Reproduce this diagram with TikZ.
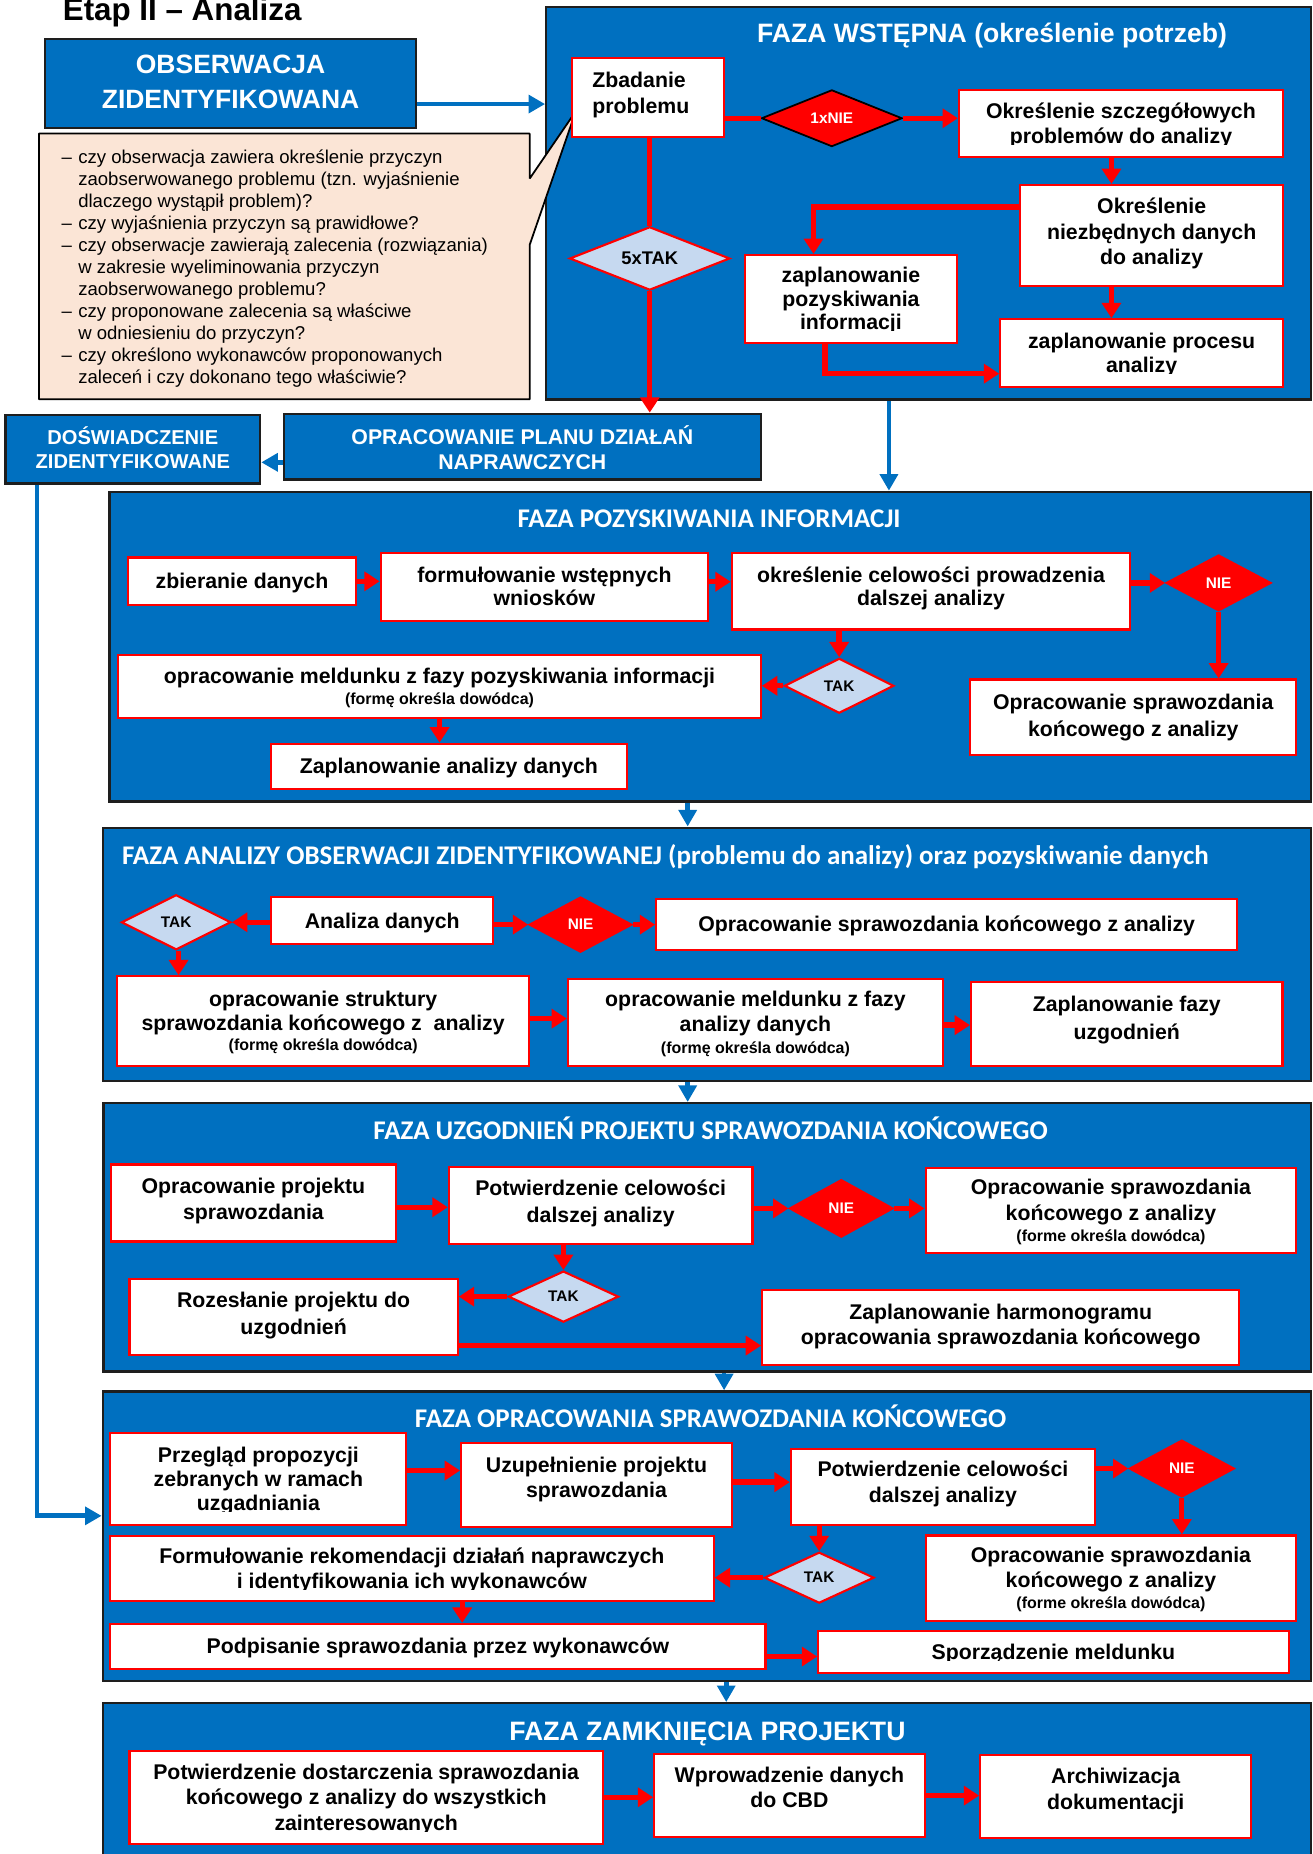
\documentclass[tikz,border=0pt]{standalone}
\usepackage{fontspec}
\setmainfont{Liberation Sans}
\newfontfamily\calfont{Carlito}
\usetikzlibrary{arrows.meta,shapes.geometric}
\definecolor{myblue}{RGB}{0,112,192}
\definecolor{myred}{RGB}{255,0,0}
\definecolor{dlblue}{RGB}{198,217,240}
\definecolor{peach}{RGB}{251,229,214}
\definecolor{dborder}{RGB}{30,30,30}
\newcommand\topS{16.5pt}
\newcommand\botD{4pt}
\newcommand\mybox[7][]{\node[wbox,#1,minimum width={#5pt-#3pt},minimum height={#6pt-#4pt}] (#2) at ({(#3+#5)/2},{(#4+#6)/2}) {\rule{0pt}{\topS}#7\rule[-\botD]{0pt}{\botD}};}
\newcommand\mydiam[7][]{\node[diam,#1,minimum width=#5pt,minimum height=#6pt] (#2) at (#3,#4) {#7};}
\newcommand\myphase[5]{\node[phase,minimum width={#4pt-#2pt},minimum height={#5pt-#3pt}] (#1) at ({(#2+#4)/2},{(#3+#5)/2}) {};}
\newcommand\smalltxt[1]{{\fontsize{13.5}{16}\selectfont #1}}
\newcommand\cutb[4]{\fill[white] ({#1+1.2},#2) rectangle ({#3-1.2},{#4-1.1});}
\newcommand\dsh{\makebox[14pt][l]{–}}
\newcommand\ind{\hspace*{14pt}}
\begin{document}
\begin{tikzpicture}[x=1pt,y=-1pt,
  wbox/.style={draw=myred,line width=1.8pt,fill=white,text=black,align=center,inner sep=0pt,font=\bfseries\fontsize{18}{21}\selectfont},
  tup/.style={execute at begin node={\def\botD{#1}}},
  tdown/.style={execute at begin node={\def\topS{#1}}},
  diam/.style={diamond,inner sep=0pt,aspect=2,line width=1.8pt,font=\bfseries\fontsize{13}{15}\selectfont},
  ydiam/.style={draw=myred,fill=dlblue,text=black},
  ndiam/.style={draw=myred,fill=myred,text=white},
  phase/.style={draw=dborder,line width=2pt,fill=myblue,inner sep=0pt},
  bbox/.style={draw=dborder,line width=2pt,fill=myblue,text=white},
  ptitle/.style={text=white,inner sep=0pt,anchor=base,font=\calfont\bfseries\fontsize{22.8}{26}\selectfont},
  atitle/.style={text=white,inner sep=0pt,anchor=base,font=\bfseries\fontsize{22.5}{26}\selectfont},
  rline/.style={draw=myred,line width=4.5pt},
  rarr/.style={rline,-{Triangle[length=13pt,width=16pt]}},
  barr/.style={draw=myblue,line width=4pt,-{Triangle[length=14pt,width=15pt]}}
]
\useasboundingbox (0,0) rectangle (1110,1568);
\clip (0,0) rectangle (1110,1568);

% title
\node[anchor=base west,inner sep=0pt,font=\bfseries\fontsize{26.5}{30}\selectfont] (title) at (53,17.5) {Etap II – Analiza};

\mybox[bbox,font=\bfseries\fontsize{22.4}{29.5}\selectfont]{obs}{38}{33}{352}{108}{OBSERWACJA\\ZIDENTYFIKOWANA}

% ===== phase 1
\myphase{f1}{462}{6}{1109}{338}
\node[atitle] (t1) at (839,36) {FAZA WSTĘPNA (określenie potrzeb)};

\path[fill=peach,draw=black,line width=1.5pt,line join=bevel] (33,113) -- (448,113) -- (448,151) -- (487,94) -- (448,207) -- (448,337.6) -- (33,337.6) -- cycle;
\node[anchor=west,align=left,inner sep=0pt,font=\fontsize{15.7}{18.6}\selectfont] (note) at (52,227) {\dsh czy obserwacja zawiera określenie przyczyn\\
\ind zaobserwowanego problemu (tzn. wyjaśnienie\\
\ind dlaczego wystąpił problem)?\\
\dsh czy wyjaśnienia przyczyn są prawidłowe?\\
\dsh czy obserwacje zawierają zalecenia (rozwiązania)\\
\ind w zakresie wyeliminowania przyczyn\\
\ind zaobserwowanego problemu?\\
\dsh czy proponowane zalecenia są właściwe\\
\ind w odniesieniu do przyczyn?\\
\dsh czy określono wykonawców proponowanych\\
\ind zaleceń i czy dokonano tego właściwie?};

\mybox[text width=94pt,align=left,font=\bfseries\fontsize{18}{22}\selectfont,tup=12pt]{zbad}{484}{49}{612}{116}{Zbadanie\\problemu}
\mydiam[ndiam,draw=black,line width=1.5pt]{nie1}{703.5}{100}{119}{48}{1xNIE}
\mybox{sz}{811}{76}{1085}{132.6}{Określenie szczegółowych\\problemów do analizy}
\mybox[font=\bfseries\fontsize{18}{21.5}\selectfont,tup=10.3pt]{nd}{863}{156.5}{1085}{241.7}{Określenie\\niezbędnych danych\\do analizy}
\mybox[font=\bfseries\fontsize{18}{19.8}\selectfont]{zpi}{629.7}{215.7}{809.6}{290}{zaplanowanie\\pozyskiwania\\informacji}
\mybox[font=\bfseries\fontsize{18}{20}\selectfont]{zpa}{846}{270}{1085}{327}{zaplanowanie procesu\\analizy}
\mydiam[ydiam,font=\bfseries\fontsize{15.5}{18}\selectfont]{tak5}{549.5}{218.6}{135.5}{53.6}{5xTAK}

\mybox[bbox,tdown=21.5pt]{opn}{240}{350}{643.5}{405.5}{OPRACOWANIE PLANU DZIAŁAŃ\\NAPRAWCZYCH}
\mybox[bbox,font=\bfseries\fontsize{17}{20}\selectfont]{dos}{4.6}{351}{220}{409}{DOŚWIADCZENIE\\ZIDENTYFIKOWANE}

% ===== phase 2
\myphase{f2}{92.5}{416}{1109}{678}
\node[ptitle] (t2) at (599.7,446) {FAZA POZYSKIWANIA INFORMACJI};
\mybox{zb}{108.3}{471.5}{301}{511.8}{zbieranie danych}
\mybox[font=\bfseries\fontsize{18}{19.6}\selectfont]{fw}{322}{467.6}{598.8}{525}{formułowanie wstępnych\\wniosków}
\mybox[font=\bfseries\fontsize{18}{19.6}\selectfont,tup=11.5pt]{oc}{618.9}{467.6}{956}{532.4}{określenie celowości prowadzenia\\dalszej analizy}
\mydiam[ndiam]{nie2}{1030.6}{493}{88.6}{47.2}{NIE}
\mybox[font=\bfseries\fontsize{18}{23.5}\selectfont,tup=7pt]{osk2}{820.6}{574.7}{1096.3}{638.7}{Opracowanie sprawozdania\\końcowego z analizy}
\mydiam[ydiam]{tak2}{709.7}{580}{92.5}{46.5}{TAK}
\mybox{om2}{100}{554}{643.5}{607}{opracowanie meldunku z fazy pozyskiwania informacji\\[-3pt]\smalltxt{(formę określa dowódca)}}
\mybox{zad}{229.3}{628.9}{530}{667}{Zaplanowanie analizy danych}

% ===== phase 3
\myphase{f3}{87}{700}{1109}{914.3}
\node[ptitle] (t3) at (562.7,731) {FAZA ANALIZY OBSERWACJI ZIDENTYFIKOWANEJ (problemu do analizy) oraz pozyskiwanie danych};
\mybox{ad}{229.3}{758.6}{417.3}{798.6}{Analiza danych}
\mydiam[ydiam]{tak3}{149}{780}{92.6}{46.6}{TAK}
\mydiam[ndiam]{nie3}{491}{782}{86.8}{46.6}{NIE}
\mybox{osk3}{555}{760}{1046.3}{803.2}{Opracowanie sprawozdania końcowego z analizy}
\mybox[font=\bfseries\fontsize{18}{20.2}\selectfont]{os3}{99}{825.7}{447.6}{901.6}{opracowanie struktury\\sprawozdania końcowego z\ \ analizy\\[-2.5pt]\smalltxt{(formę określa dowódca)}}
\mybox[font=\bfseries\fontsize{18}{21.2}\selectfont]{om3}{480.4}{827.7}{797.4}{901.6}{opracowanie meldunku z fazy\\analizy danych\\[-3pt]\smalltxt{(formę określa dowódca)}}
\mybox[font=\bfseries\fontsize{18}{23.4}\selectfont,tup=14.5pt]{zfu}{821.3}{830.8}{1084.6}{901.6}{Zaplanowanie fazy\\uzgodnień}

% ===== phase 4
\myphase{f4}{87.6}{933}{1108.8}{1160}
\node[ptitle] (t4) at (601,964) {FAZA UZGODNIEŃ PROJEKTU SPRAWOZDANIA KOŃCOWEGO};
\mybox[font=\bfseries\fontsize{18}{22}\selectfont,tup=10.9pt]{op4}{93.7}{984.8}{335}{1050}{Opracowanie projektu\\sprawozdania}
\mybox[font=\bfseries\fontsize{18}{22.5}\selectfont,tup=10pt]{pc4}{379.6}{987}{636.4}{1051.9}{Potwierdzenie celowości\\dalszej analizy}
\mydiam[ndiam]{nie4}{711.5}{1022}{87.5}{48.6}{NIE}
\mybox[font=\bfseries\fontsize{18}{21.9}\selectfont]{osk4}{782.8}{987.6}{1096.3}{1059.5}{Opracowanie sprawozdania\\końcowego z analizy\\[-4pt]\smalltxt{(forme określa dowódca)}}
\mydiam[ydiam]{tak4}{476.5}{1096.6}{93.3}{43.2}{TAK}
\mybox[font=\bfseries\fontsize{18}{22.6}\selectfont,tup=10pt]{roz4}{109.5}{1082}{387.1}{1145.8}{Rozesłanie projektu do\\uzgodnień}
\mybox[tup=9pt]{zh4}{644.6}{1090.8}{1048.1}{1154.2}{Zaplanowanie harmonogramu\\opracowania sprawozdania końcowego}

% ===== phase 5
\myphase{f5}{86.9}{1176.8}{1108.8}{1421.9}
\node[ptitle] (t5) at (601,1207) {FAZA OPRACOWANIA SPRAWOZDANIA KOŃCOWEGO};
\mybox[font=\bfseries\fontsize{18}{20.3}\selectfont]{pp5}{93.3}{1211.8}{343.7}{1289.6}{Przegląd propozycji\\zebranych w ramach\\uzgadniania}
\mybox[font=\bfseries\fontsize{18}{21.7}\selectfont,tup=17pt]{up5}{390}{1220.5}{618.9}{1291.6}{Uzupełnienie projektu\\sprawozdania}
\mybox[font=\bfseries\fontsize{18}{22}\selectfont,tup=11.6pt]{pc5}{668.9}{1225.3}{926}{1289.6}{Potwierdzenie celowości\\dalszej analizy}
\mydiam[ndiam]{nie5}{999.5}{1242}{88.6}{48}{NIE}
\mybox[font=\bfseries\fontsize{18}{21.1}\selectfont]{osk5}{782.8}{1298.6}{1096.3}{1371.2}{Opracowanie sprawozdania\\końcowego z analizy\\[-3pt]\smalltxt{(forme określa dowódca)}}
\mydiam[ydiam]{tak5b}{692.8}{1334.3}{92.8}{43.1}{TAK}
\mybox[font=\bfseries\fontsize{18}{20.5}\selectfont]{fr5}{93.3}{1299.2}{603.5}{1354.2}{Formułowanie rekomendacji działań naprawczych\\i identyfikowania ich wykonawców}
\mybox{ps5}{93.3}{1373.4}{647.4}{1411.4}{Podpisanie sprawozdania przez wykonawców}
\mybox{sm5}{692}{1379.6}{1089.8}{1414.8}{Sporządzenie meldunku}

% ===== phase 6
\myphase{f6}{86.9}{1440.5}{1108.8}{1590}
\node[atitle] (t6) at (598.3,1472) {FAZA ZAMKNIĘCIA PROJEKTU};
\mybox[font=\bfseries\fontsize{18}{21.2}\selectfont]{pd6}{109.5}{1481}{509.9}{1559.5}{Potwierdzenie dostarczenia sprawozdania\\końcowego z analizy do wszystkich\\zainteresowanych}
\mybox[font=\bfseries\fontsize{18}{21.2}\selectfont,tup=17pt]{wd6}{553.3}{1483.4}{782}{1553.9}{Wprowadzenie danych\\do CBD}
\mybox[font=\bfseries\fontsize{18}{21.9}\selectfont,tup=16.6pt]{ar6}{829}{1484.2}{1058.1}{1554.7}{Archiwizacja\\dokumentacji}

% ===== cut-off text bottoms
\cutb{811}{122.6}{1085}{132.6}
\cutb{629.7}{280}{809.6}{290}
\cutb{846}{316}{1085}{327}
\cutb{93.3}{1278.5}{343.7}{1289.6}
\cutb{93.3}{1344.5}{603.5}{1354.2}
\cutb{692}{1404.5}{1089.8}{1414.8}
\cutb{109.5}{1549}{509.9}{1559.5}

% ===== connectors phase 1
\draw[barr] (obs.east |- 0,88) -- (f1.west |- 0,88);
\draw[rline] (zbad.east |- nie1.west) -- (nie1.west);
\draw[rarr] (nie1.east) -- (sz.west |- nie1.east);
\draw[rarr] (940,0 |- sz.south) -- (940,0 |- nd.north);
\draw[rarr] (nd.west |- 0,175) -| (688,0 |- zpi.north);
\draw[rarr] (940,0 |- nd.south) -- (940,0 |- zpa.north);
\draw[rarr] (697.6,0 |- zpi.south) |- (zpa.west |- 0,316);
\draw[rline] (tak5.north |- zbad.south) -- (tak5.north);
\draw[rarr] (tak5.south) -- (tak5.south |- opn.north);
\draw[barr] (opn.west |- 0,391) -- (dos.east |- 0,391);
\draw[barr] (751.8,0 |- f1.south) -- (751.8,0 |- f2.north);
\draw[barr] (31.3,0 |- dos.south) |- (f5.west |- 0,1282);

% phase 2
\draw[rarr] (zb.east) -- (fw.west |- zb.east);
\draw[rarr] (fw.east |- 0,492) -- (oc.west |- 0,492);
\draw[rarr] (oc.east |- nie2.west) -- (nie2.west);
\draw[rarr] (nie2.south) -- (nie2.south |- osk2.north);
\draw[rarr] (tak2.north |- oc.south) -- (tak2.north);
\draw[rarr] (tak2.west) -- (om2.east |- tak2.west);
\draw[rarr] (om2.south) -- (om2.south |- zad.north);
\draw[barr] (581.6,0 |- f2.south) -- (581.6,0 |- f3.north);

% phase 3
\draw[rarr] (ad.west |- 0,780) -- (tak3.east);
\draw[rarr] (ad.east |- nie3.west) -- (nie3.west);
\draw[rarr] (nie3.east) -- (osk3.west |- nie3.east);
\draw[rarr] (151,0 |- tak3.south) -- (151,0 |- os3.north);
\draw[rarr] (os3.east |- 0,861.5) -- (om3.west |- 0,861.5);
\draw[rarr] (om3.east |- 0,867) -- (zfu.west |- 0,867);
\draw[barr] (581.6,0 |- f3.south) -- (581.6,0 |- f4.north);

% phase 4
\draw[rarr] (op4.east |- 0,1021) -- (pc4.west |- 0,1021);
\draw[rarr] (pc4.east |- nie4.west) -- (nie4.west);
\draw[rarr] (nie4.east) -- (osk4.west |- nie4.east);
\draw[rarr] (tak4.north |- pc4.south) -- (tak4.north);
\draw[rarr] (tak4.west) -- (roz4.east |- tak4.west);
\draw[rarr] (roz4.east |- 0,1138) -- (zh4.west |- 0,1138);
\draw[barr] (612.4,0 |- f4.south) -- (612.4,0 |- f5.north);

% phase 5
\draw[rarr] (pp5.east |- 0,1243.7) -- (up5.west |- 0,1243.7);
\draw[rarr] (up5.east |- 0,1253.5) -- (pc5.west |- 0,1253.5);
\draw[rarr] (pc5.east |- nie5.west) -- (nie5.west);
\draw[rarr] (nie5.south) -- (nie5.south |- osk5.north);
\draw[rarr] (tak5b.north |- pc5.south) -- (tak5b.north);
\draw[rarr] (tak5b.west) -- (fr5.east |- tak5b.west);
\draw[rarr] (390.9,0 |- fr5.south) -- (390.9,0 |- ps5.north);
\draw[rarr] (ps5.east |- 0,1401) -- (sm5.west |- 0,1401);
\draw[barr] (614.2,0 |- f5.south) -- (614.2,0 |- f6.north);

% phase 6
\draw[rarr] (pd6.east |- 0,1520) -- (wd6.west |- 0,1520);
\draw[rarr] (wd6.east |- 0,1518.6) -- (ar6.west |- 0,1518.6);
\end{tikzpicture}
\end{document}
